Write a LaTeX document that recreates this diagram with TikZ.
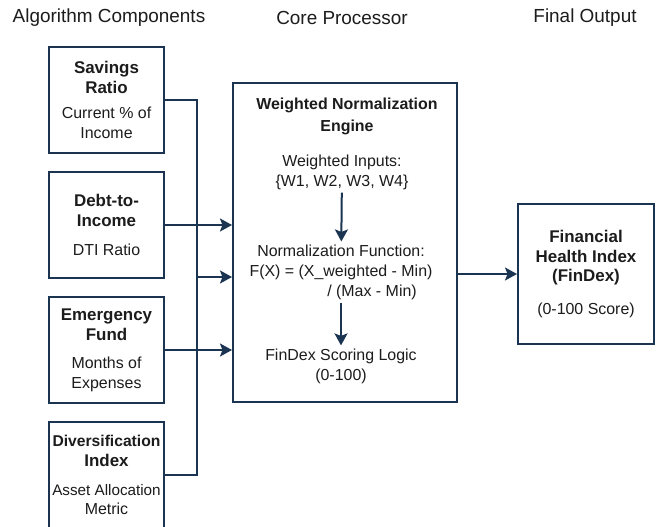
\documentclass[tikz,border=0pt]{standalone}
\usepackage{fontspec}
\setmainfont{Liberation Sans}
\usetikzlibrary{arrows.meta,positioning}

\definecolor{navy}{RGB}{27,52,82}
\definecolor{ink}{RGB}{28,28,28}

\newcommand{\ttl}[1]{{\fontsize{17}{20}\selectfont\bfseries #1}}

\begin{document}
\begin{tikzpicture}[
    x=1bp, y=-1bp,
    >={Stealth[length=12bp,width=13bp,inset=2.5bp]},
    node distance=17bp,
    every node/.style={font=\fontsize{16}{20}\selectfont, text=ink},
    head/.style={font=\fontsize{19}{22}\selectfont},
    comp/.style={
        rectangle, draw=navy, line width=2bp,
        minimum width=115bp, minimum height=106bp, inner sep=1bp,
        align=center
    },
    core/.style={
        rectangle, draw=navy, line width=2bp,
        minimum width=224bp, minimum height=319bp
    },
    outp/.style={
        rectangle, draw=navy, line width=2bp,
        minimum width=136bp, minimum height=140bp, inner sep=1bp,
        align=center
    },
    txt/.style={align=center, inner sep=3bp},
    arr/.style={->, line width=2bp, navy},
    bus/.style={line width=2bp, navy}
]

    \useasboundingbox[fill=white] (0,0) rectangle (665,527);

    % Column headers
    \node[head] (H1) at (109,18) {Algorithm Components};
    \node[head] (H2) at (342,18) {Core Processor};
    \node[head] (H3) at (585,18) {Final Output};

    % Input components, stacked
    \node[comp] (C1) at (106.5,100)
        {\ttl{Savings}\\\ttl{Ratio}\\[5bp]Current \% of\\Income};
    \node[comp] (C2) [below=of C1]
        {\ttl{Debt-to-}\\\ttl{Income}\\[9bp]DTI Ratio};
    \node[comp] (C3) [below=of C2]
        {\ttl{Emergency}\\\ttl{Fund}\\[8bp]Months of\\Expenses};
    \node[comp] (C4) [below=of C3]
        {{\fontsize{15.7}{19}\selectfont\bfseries Diversification}\\\ttl{Index}\\[9bp]%
         {\fontsize{15.3}{19}\selectfont Asset Allocation}\\Metric};

    % Core processor box and its steps
    \node[core] (E) at (345,242.5) {};
    \node[txt, font=\fontsize{16}{22}\selectfont\bfseries] (ET) at (347,116)
        {Weighted Normalization\\Engine};
    \node[txt] (EI) at (342,172) {Weighted Inputs:\\\{W1, W2, W3, W4\}};
    \node[txt] (EN) at (341,272)
        {Normalization Function:\\F(X) = (X\_weighted - Min)\\\hspace*{62bp}/ (Max - Min)};
    \node[txt] (ES) at (341,366) {FinDex Scoring Logic\\(0-100)};

    % Output box
    \node[outp] (F) at (586,274)
        {\ttl{Financial}\\\ttl{Health Index}\\\ttl{(FinDex)}\\[13bp](0-100 Score)};

    % Bus on the left
    \coordinate (B) at (197,0);
    \coordinate (M) at (197,277);
    \draw[bus] (C1.east) -| (C4.east -| B) -- (C4.east);

    % Edges
    \draw[arr] (C2.east) -- (C2.east -| E.west);
    \draw[arr] (M) -- (M -| E.west);
    \draw[arr] (C3.east) -- (C3.east -| E.west);
    \draw[arr] (EI) -- (EN);
    \draw[arr] (EN) -- (ES);
    \draw[arr] (E.east |- F.west) -- (F.west);

\end{tikzpicture}
\end{document}
